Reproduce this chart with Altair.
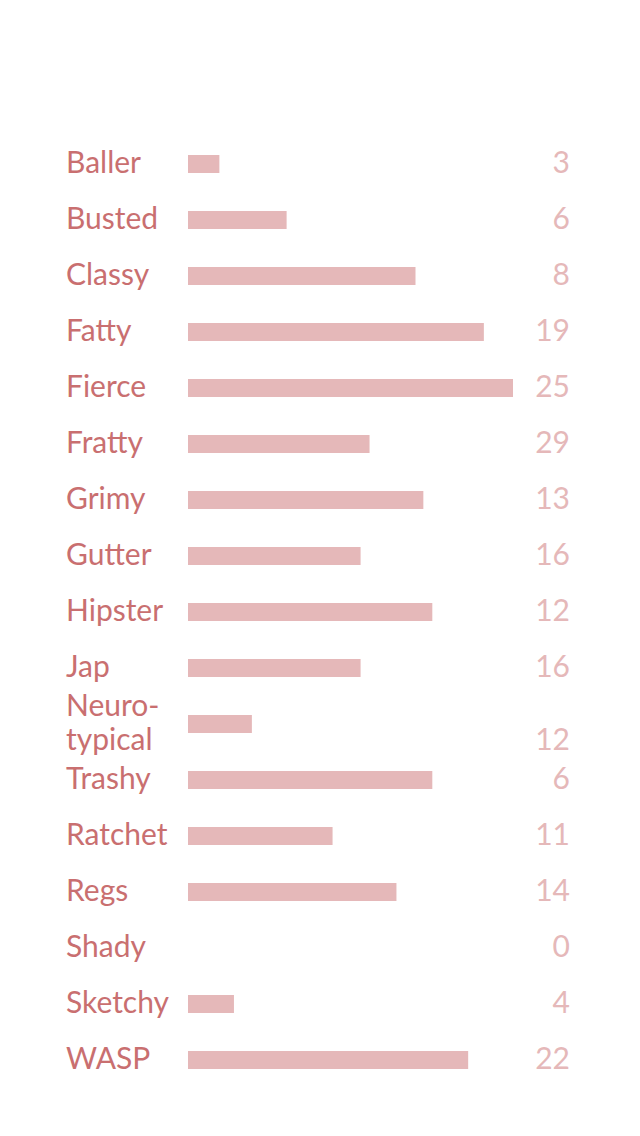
import altair as alt
import pandas as pd

categories = ["Baller", "Busted", "Classy", "Fatty", "Fierce", "Fratty", "Grimy",
              "Gutter", "Hipster", "Jap", "Neuro-\ntypical", "Trashy", "Ratchet",
              "Regs", "Shady", "Sketchy", "WASP"]
bar_values = [2.8, 8.8, 20.3, 26.4, 29.0, 16.2, 21.0, 15.4, 21.8, 15.4, 5.7,
              21.8, 12.9, 18.6, 0.0, 4.1, 25.0]
count_labels = ["3", "6", "8", "19", "25", "29", "13", "16", "12", "16", "12",
                "6", "11", "14", "0", "4", "22"]
two_line = [c.count("\n") > 0 for c in categories]

df = pd.DataFrame({"cat": categories, "bar": bar_values, "num": count_labels,
                   "two": two_line})

FONT = "Lato"
y = alt.Y("cat:N", sort=categories,
          scale=alt.Scale(type="point", range=[164, 1060], padding=0), axis=None)
x = alt.X("bar:Q", scale=alt.Scale(domain=[0, 29], range=[188, 513]), axis=None)

base = alt.Chart(df)
bars = base.mark_bar(height=18, color="#e5b8b9").encode(
    x=x, x2=alt.value(188), y=y
)
txt_label = dict(align="left", baseline="middle", font=FONT, fontSize=30,
                 color="#c96f70", lineBreak="\n", lineHeight=34)
txt_num = dict(align="right", baseline="middle", font=FONT, fontSize=30,
               color="#e5b8b9")

labels1 = base.transform_filter("!datum.two").mark_text(**txt_label).encode(
    x=alt.value(66), y=y, text="cat:N")
labels2 = base.transform_filter("datum.two").mark_text(dy=-17, **txt_label).encode(
    x=alt.value(66), y=y, text="cat:N")
nums1 = base.transform_filter("!datum.two").mark_text(**txt_num).encode(
    x=alt.value(570), y=y, text="num:N")
nums2 = base.transform_filter("datum.two").mark_text(dy=17, **txt_num).encode(
    x=alt.value(570), y=y, text="num:N")

chart = alt.layer(bars, labels1, labels2, nums1, nums2).properties(
    width=640, height=1136, padding=0, autosize="none", background="white"
).configure_view(stroke=None)

chart.save("out.html", embed_options={"renderer": "svg", "actions": False})
